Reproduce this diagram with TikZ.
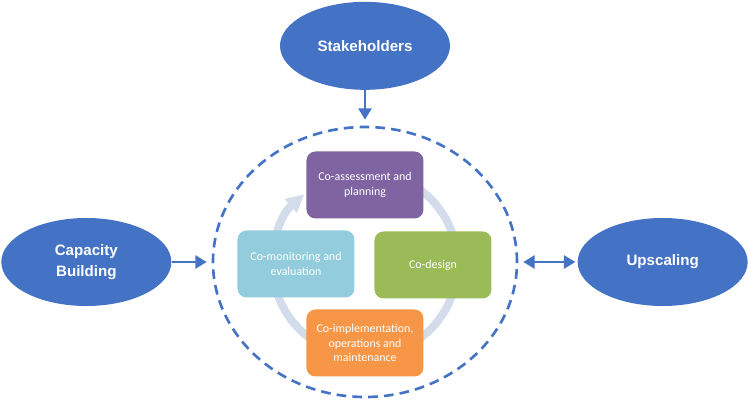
\documentclass[tikz,border=0pt]{standalone}
\usepackage{fontspec}
\setmainfont{Carlito}
\newfontfamily\ellfont{Liberation Sans}
\usepackage{xcolor}
\usepackage{tikz}
\usetikzlibrary{shapes.geometric, arrows.meta, positioning}
\definecolor{bubbleblue}{HTML}{4472C4}
\definecolor{assesspurple}{HTML}{8064A2}
\definecolor{monitorblue}{HTML}{93CDDD}
\definecolor{designgreen}{HTML}{9BBB59}
\definecolor{implorange}{HTML}{F79646}
\definecolor{cyclegray}{HTML}{D3DCEA}
\newcommand{\bubblefont}{\ellfont\bfseries\fontsize{8.6}{12}\selectfont}
\newcommand{\stepfont}{\fontsize{6.8}{8.2}\selectfont}
\tikzset{
    bubble/.style={ellipse, minimum width=3.4cm, minimum height=1.76cm, inner sep=0pt, fill=bubbleblue, text=white, font=\bubblefont, align=center},
    stepbox/.style={rectangle, rounded corners=0.18cm, minimum width=2.34cm, minimum height=1.34cm, inner sep=1pt, text=white, font=\stepfont, align=center},
    ring/.style={ellipse, minimum width=6.08cm, minimum height=5.4cm, draw=bubbleblue, line width=1.5pt, dash pattern=on 5.5pt off 3.5pt},
    arrow/.style={line width=1.4pt, draw=bubbleblue, -{Triangle[length=6.5pt,width=7.5pt]}, fill=bubbleblue},
    dblarrow/.style={line width=1.4pt, draw=bubbleblue, {Triangle[length=6.5pt,width=7.5pt]}-{Triangle[length=6.5pt,width=7.5pt]}, fill=bubbleblue},
    cyclearrow/.style={line width=0.16cm, draw=cyclegray, -{Triangle[length=0.36cm,width=0.34cm]}}
}

\begin{document}
\begin{tikzpicture}
    \useasboundingbox (-7.3,-2.8) rectangle (7.7,5.28);

    % dashed ring and the cycle inside it
    \node (cycle) [ring] at (0,0.04) {};
    \draw [cyclearrow] (100:1.85) arc[start angle=100, end angle=-229, radius=1.85];

    \node (assess) [stepbox, fill=assesspurple] at (0,1.58) {Co-assessment and\\planning};
    \node (monitor) [stepbox, fill=monitorblue] at (-1.38,0) {Co-monitoring and\\evaluation};
    \node (design) [stepbox, fill=designgreen] at (1.36,-0.02) {Co-design};
    \node (implement) [stepbox, fill=implorange] at (0,-1.58) {Co-implementation,\\operations and\\maintenance};

    % outer actors
    \node (stake) [bubble, above=0.71cm of cycle] {Stakeholders};
    \node (capacity) [bubble, left=0.8cm of cycle] {Capacity\\Building};
    \node (upscale) [bubble, right=1.18cm of cycle] {Upscaling};

    \draw [arrow, shorten >=0.12cm] (stake) -- (cycle);
    \draw [arrow, shorten >=0.1cm] (capacity) -- (cycle);
    \draw [dblarrow, shorten <=0.1cm, shorten >=0.04cm] (cycle) -- (upscale);
\end{tikzpicture}
\end{document}
